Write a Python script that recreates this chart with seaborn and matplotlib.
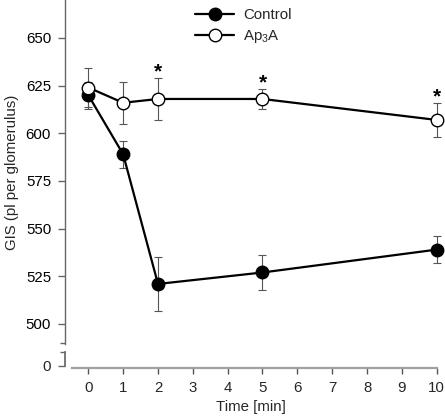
import numpy as np
import pandas as pd
import matplotlib
matplotlib.use("Agg")
import matplotlib.pyplot as plt
import seaborn as sns

# data
times = [0, 1, 2, 5, 10]
control = [620, 589, 521, 527, 539]
control_err = [7, 7, 14, 9, 7]
ap3a = [624, 616, 618, 618, 607]
ap3a_err = [10, 11, 11, 5, 9]
signif_times = [2, 5, 10]
yticks = [500, 525, 550, 575, 600, 625, 650]
xticks = list(range(0, 11))

sns.set_theme(style="white")
plt.rcParams['font.family'] = ['Liberation Sans', 'DejaVu Sans']
plt.rcParams['mathtext.fontset'] = 'custom'
plt.rcParams['mathtext.rm'] = 'Liberation Sans'
plt.rcParams['mathtext.default'] = 'regular'

fs = 10.8
W, H = 445, 416
fig = plt.figure(figsize=(W / 100, H / 100), dpi=100)

def px_rect(x0, y0, x1, y1):
    return [x0 / W, 1 - y1 / H, (x1 - x0) / W, (y1 - y0) / H]

spine_col = '#666666'
xaxis_col = '#a0a0a0'

# upper part of broken axis
ax = fig.add_axes(px_rect(65, 0, 437, 344))
ax_low = fig.add_axes(px_rect(65, 352, 437, 368))

xlim = (-0.669, 10.009)

df = pd.DataFrame({'time': times, 'Control': control, 'Ap3A': ap3a})

ax.errorbar(times, control, yerr=control_err, fmt='none', ecolor='#555555',
            elinewidth=0.8, capsize=3, capthick=0.8, zorder=1, clip_on=False)
ax.errorbar(times, ap3a, yerr=ap3a_err, fmt='none', ecolor='#555555',
            elinewidth=0.8, capsize=3, capthick=0.8, zorder=1, clip_on=False)

sns.lineplot(data=df, x='time', y='Control', ax=ax, color='black', linewidth=1.6,
             marker='o', markersize=9, markerfacecolor='black',
             markeredgecolor='black', markeredgewidth=1, zorder=3)
sns.lineplot(data=df, x='time', y='Ap3A', ax=ax, color='black', linewidth=1.6,
             marker='o', markersize=9, markerfacecolor='white',
             markeredgecolor='black', markeredgewidth=1, zorder=4)
for ln in ax.lines:
    ln.set_clip_on(False)
handles = [ln for ln in ax.lines if ln.get_marker() == 'o']

for t in signif_times:
    i = times.index(t)
    ax.text(t, ap3a[i] + ap3a_err[i] + 0.3, '*', ha='center', va='baseline',
            fontsize=15, fontweight='bold', color='black')

ax.set_xlim(xlim)
ax.set_ylim(489.5, 669.9)
ax.set_yticks(yticks)
ax.set_yticks([489.8], minor=True)
ax.set_xticks([])
for s in ['top', 'right', 'bottom']:
    ax.spines[s].set_visible(False)
ax.spines['left'].set_color(spine_col)
ax.spines['left'].set_linewidth(1)
ax.tick_params(axis='y', which='major', left=True, length=5, width=1,
               color=spine_col, labelsize=fs, pad=5, labelcolor='black')
ax.tick_params(axis='y', which='minor', left=True, length=3.5, width=1,
               color=spine_col)
ax.set_ylabel('GIS (pl per glomerulus)', fontsize=fs, labelpad=5)
ax.set_xlabel('')
ax.patch.set_alpha(0)

# lower part with the zero and the time axis
ax_low.set_xlim(xlim)
ax_low.set_ylim(-2.5, 13.5)
ax_low.set_yticks([0])
ax_low.set_yticklabels(['0'])
ax_low.set_yticks([13.3], minor=True)
ax_low.set_xticks(xticks)
for s in ['top', 'right']:
    ax_low.spines[s].set_visible(False)
ax_low.spines['left'].set_bounds(0, 13.5)
ax_low.spines['left'].set_color(spine_col)
ax_low.spines['bottom'].set_bounds(-0.47, 10)
ax_low.spines['bottom'].set_color(xaxis_col)
ax_low.spines['bottom'].set_linewidth(1.6)
ax_low.tick_params(axis='y', which='major', left=True, length=5, width=1,
                   color=spine_col, labelsize=fs, pad=5)
ax_low.tick_params(axis='y', which='minor', left=True, length=3.5, width=1,
                   color=spine_col)
ax_low.tick_params(axis='x', bottom=True, length=4, width=1, color='#555555',
                   labelsize=fs, pad=5)
ax_low.set_xlabel('Time [min]', fontsize=fs, labelpad=4)
ax_low.patch.set_alpha(0)

ax.legend(handles, ['Control', 'Ap$_3$A'], loc='upper left',
          bbox_to_anchor=(195 / W, 1 - 8 / H), bbox_transform=fig.transFigure,
          frameon=False, fontsize=fs, handlelength=2.6, handletextpad=0.6,
          labelspacing=0.4, borderpad=0, borderaxespad=0)

fig.savefig('out.png', dpi=100)
